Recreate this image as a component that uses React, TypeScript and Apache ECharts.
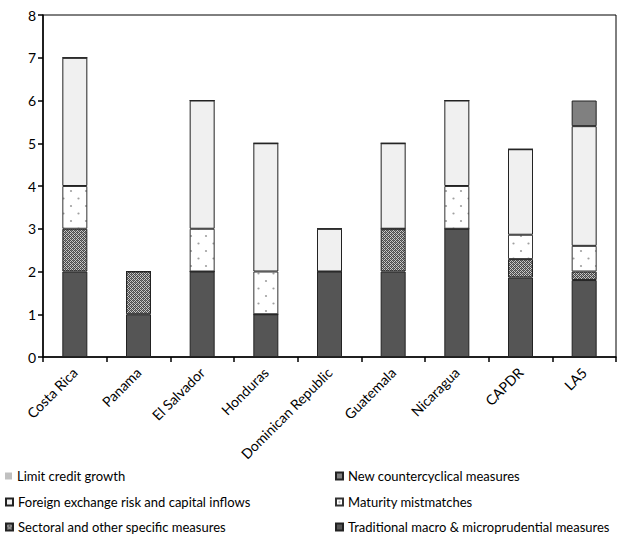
import React, { useEffect, useRef } from "react";
import * as echarts from "echarts";

const categories = [
  "Costa Rica",
  "Panama",
  "El Salvador",
  "Honduras",
  "Dominican Republic",
  "Guatemala",
  "Nicaragua",
  "CAPDR",
  "LA5",
];

const traditional = [2, 1, 2, 1, 2, 2, 3, 1.86, 1.8];
const sectoral = [1, 1, 0, 0, 0, 1, 0, 0.43, 0.2];
const maturity = [1, 0, 1, 1, 0, 0, 1, 0.57, 0.6];
const foreignExchange = [3, 0, 3, 3, 1, 2, 2, 2, 2.8];
const newCountercyclical = [0, 0, 0, 0, 0, 0, 0, 0, 0.6];
const limitCredit = [0, 0, 0, 0, 0, 0, 0, 0, 0];

const yTicks = [0, 1, 2, 3, 4, 5, 6, 7, 8];

const legendLeftColumn = [
  "Limit credit growth",
  "Foreign exchange risk and capital inflows",
  "Sectoral and other specific measures",
];
const legendRightColumn = [
  "New countercyclical measures",
  "Maturity mistmatches",
  "Traditional macro & microprudential measures",
];

const FONT = "Lato, 'Open Sans', sans-serif";

function makeSectoralPattern(): HTMLCanvasElement {
  const c = document.createElement("canvas");
  c.width = 4;
  c.height = 4;
  const ctx = c.getContext("2d")!;
  ctx.fillStyle = "#c8c8c8";
  ctx.fillRect(0, 0, 4, 4);
  ctx.fillStyle = "#4a4a4a";
  ctx.fillRect(0, 0, 1, 1);
  ctx.fillRect(2, 0, 1, 1);
  ctx.fillRect(1, 1, 1, 1);
  ctx.fillRect(3, 1, 1, 1);
  ctx.fillRect(0, 2, 1, 1);
  ctx.fillRect(2, 2, 1, 1);
  ctx.fillRect(1, 3, 1, 1);
  ctx.fillRect(3, 3, 1, 1);
  ctx.fillStyle = "#7a7a7a";
  ctx.fillRect(1, 0, 1, 1);
  ctx.fillRect(3, 2, 1, 1);
  return c;
}

function makeDotPattern(): HTMLCanvasElement {
  const c = document.createElement("canvas");
  c.width = 15;
  c.height = 15;
  const ctx = c.getContext("2d")!;
  ctx.fillStyle = "#ffffff";
  ctx.fillRect(0, 0, 15, 15);
  ctx.fillStyle = "#a0a0a0";
  ctx.beginPath();
  ctx.arc(3.5, 3.5, 1.1, 0, Math.PI * 2);
  ctx.fill();
  ctx.beginPath();
  ctx.arc(11, 11, 1.1, 0, Math.PI * 2);
  ctx.fill();
  return c;
}

export default function App() {
  const ref = useRef<HTMLDivElement>(null);

  useEffect(() => {
    if (!ref.current) return;
    const chart = echarts.init(ref.current, null, { renderer: "svg" });

    const sectoralPattern = { image: makeSectoralPattern(), repeat: "repeat" };
    const dotPattern = { image: makeDotPattern(), repeat: "repeat" };

    const barWidth = 25;
    const mk = (name: string, data: number[], itemStyle: any) => ({
      name,
      type: "bar",
      stack: "total",
      barWidth,
      data,
      itemStyle,
      emphasis: { disabled: true },
    });

    const rowTops = [469, 495, 520];
    const legendItem = (name: string, left: number, top: number) => ({
      orient: "horizontal",
      left,
      top,
      padding: 0,
      itemWidth: 7,
      itemHeight: 7,
      icon: "rect",
      selectedMode: false,
      textStyle: { fontFamily: FONT, fontSize: 13, color: "#000", lineHeight: 14 },
      data: [name],
    });

    const legends = [
      ...legendLeftColumn.map((n, i) => legendItem(n, 5, rowTops[i])),
      ...legendRightColumn.map((n, i) => legendItem(n, 335, rowTops[i])),
    ];

    const option: any = {
      animation: false,
      backgroundColor: "#ffffff",
      textStyle: { fontFamily: FONT },
      grid: {
        left: 43,
        right: 4,
        top: 15,
        bottom: 180,
        show: true,
        borderColor: "#000",
        borderWidth: 1,
        backgroundColor: "transparent",
      },
      legend: legends,
      xAxis: {
        type: "category",
        data: categories,
        axisLine: { lineStyle: { color: "#000", width: 1.5 } },
        axisTick: { show: true, length: 5, inside: false, lineStyle: { color: "#000", width: 1.5 } },
        axisLabel: {
          rotate: 45,
          interval: 0,
          margin: 13,
          fontFamily: FONT,
          fontSize: 14,
          color: "#000",
        },
      },
      yAxis: {
        type: "value",
        min: yTicks[0],
        max: yTicks[yTicks.length - 1],
        interval: 1,
        splitLine: { show: false },
        axisLine: { show: true, lineStyle: { color: "#000", width: 1.5 } },
        axisTick: { show: true, length: 5, lineStyle: { color: "#000", width: 1.5 } },
        axisLabel: { margin: 7, fontFamily: FONT, fontSize: 14, color: "#000" },
      },
      series: [
        mk("Traditional macro & microprudential measures", traditional, {
          color: "#555555",
          borderColor: "#222",
          borderWidth: 1,
        }),
        mk("Sectoral and other specific measures", sectoral, {
          color: sectoralPattern,
          borderColor: "#222",
          borderWidth: 1,
        }),
        mk("Maturity mistmatches", maturity, {
          color: dotPattern,
          borderColor: "#333",
          borderWidth: 1,
        }),
        mk("Foreign exchange risk and capital inflows", foreignExchange, {
          color: "#f0f0f0",
          borderColor: "#222",
          borderWidth: 1,
        }),
        mk("New countercyclical measures", newCountercyclical, {
          color: "#808080",
          borderColor: "#222",
          borderWidth: 1,
        }),
        mk("Limit credit growth", limitCredit, {
          color: "#c0c0c0",
          borderWidth: 0,
        }),
      ],
    };

    chart.setOption(option);
    return () => chart.dispose();
  }, []);

  return (
    <div
      ref={ref}
      style={{ position: "fixed", left: 0, top: 0, width: 620, height: 537 }}
    />
  );
}
